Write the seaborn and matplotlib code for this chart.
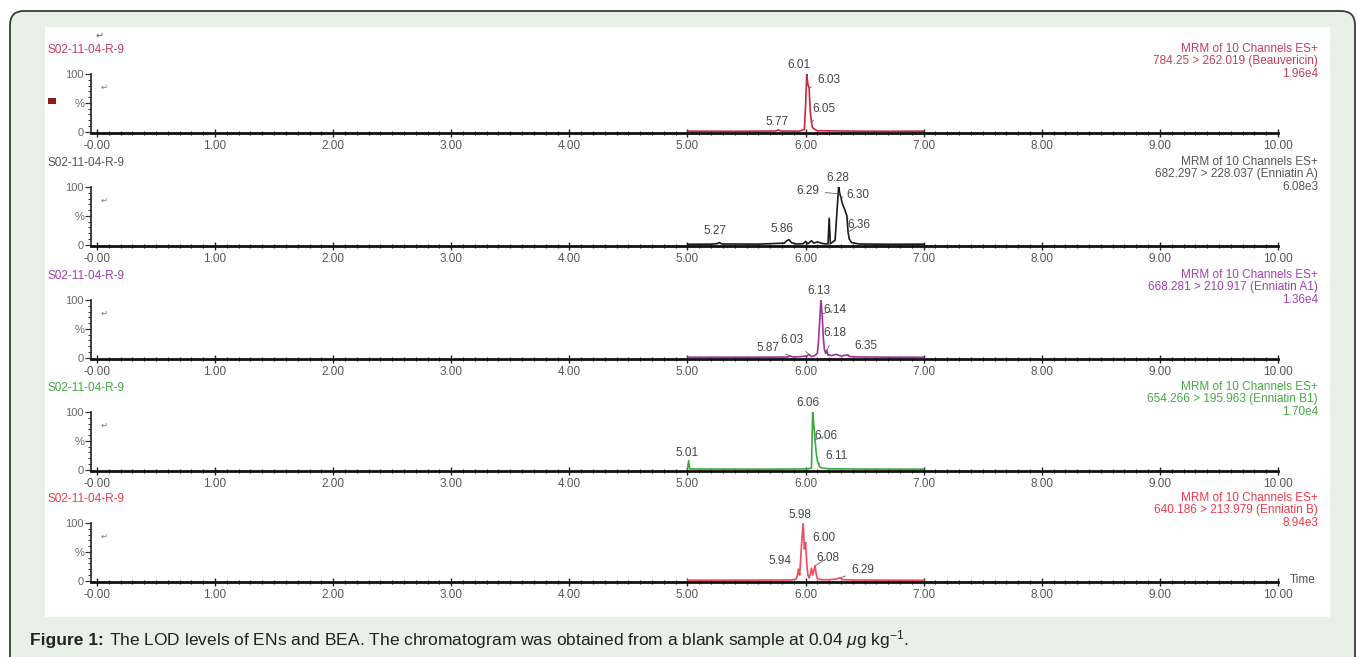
import matplotlib.pyplot as plt
import seaborn as sns
from matplotlib.patches import FancyBboxPatch, Rectangle
from matplotlib.ticker import MultipleLocator


# --- data ---

sample_names = ["S02-11-04-R-9"] * 5
channel_title = "MRM of 10 Channels ES+"
transitions = [
    "784.25 > 262.019 (Beauvericin)",
    "682.297 > 228.037 (Enniatin A)",
    "668.281 > 210.917 (Enniatin A1)",
    "654.266 > 195.963 (Enniatin B1)",
    "640.186 > 213.979 (Enniatin B)",
]
intensities = ["1.96e4", "6.08e3", "1.36e4", "1.70e4", "8.94e3"]
x_ticks = [0, 1, 2, 3, 4, 5, 6, 7, 8, 9, 10]
x_tick_labels = ["-0.00", "1.00", "2.00", "3.00", "4.00", "5.00",
                 "6.00", "7.00", "8.00", "9.00", "10.00"]

# Beauvericin
bea_time = [5.00, 5.40, 5.70, 5.75, 5.77, 5.79, 5.95, 5.99, 6.00, 6.01, 6.02,
            6.03, 6.04, 6.05, 6.06, 6.08, 6.10, 6.40, 6.70, 7.00]
bea_pct = [1.2, 1.0, 1.3, 1.5, 3.5, 1.4, 1.2, 4, 45, 100, 82,
           76, 35, 16, 7, 4, 2, 1.2, 1.0, 1.2]
bea_peak_labels = ["6.01", "6.03", "6.05", "5.77"]
bea_peak_time = [6.01, 6.03, 6.05, 5.77]
bea_peak_pct = [100, 76, 16, 3.5]

# Enniatin A
ena_time = [5.00, 5.20, 5.25, 5.27, 5.29, 5.60, 5.82, 5.84, 5.86, 5.88, 5.92,
            5.98, 6.00, 6.02, 6.05, 6.07, 6.10, 6.15, 6.19, 6.20, 6.21, 6.25,
            6.27, 6.28, 6.29, 6.30, 6.31, 6.33, 6.35, 6.36, 6.37, 6.39, 6.45,
            6.70, 7.00]
ena_pct = [1.0, 1.2, 2, 4, 1.5, 1.2, 3, 7, 9, 4, 1.5,
           2, 6, 2, 7, 3, 5, 2, 1.5, 46, 2, 8,
           70, 100, 88, 82, 72, 62, 50, 22, 10, 4, 1.5,
           1.0, 1.2]
ena_peak_labels = ["6.28", "6.29", "6.30", "6.36", "5.86", "5.27"]
ena_peak_time = [6.28, 6.29, 6.30, 6.36, 5.86, 5.27]
ena_peak_pct = [100, 88, 82, 22, 9, 4]

# Enniatin A1
ena1_time = [5.00, 5.50, 5.80, 5.85, 5.87, 5.89, 5.95, 6.01, 6.03, 6.05, 6.08,
             6.10, 6.11, 6.12, 6.13, 6.14, 6.15, 6.16, 6.17, 6.18, 6.19, 6.22,
             6.26, 6.30, 6.35, 6.38, 6.45, 6.70, 7.00]
ena1_pct = [1.0, 1.2, 1.3, 1.5, 3.5, 1.5, 2, 3, 6, 2, 4,
            8, 30, 65, 100, 76, 35, 14, 8, 13, 5, 4,
            6, 3, 5, 2, 1.5, 1.2, 1.0]
ena1_peak_labels = ["6.13", "6.14", "6.18", "6.35", "6.03", "5.87"]
ena1_peak_time = [6.13, 6.14, 6.18, 6.35, 6.03, 5.87]
ena1_peak_pct = [100, 76, 13, 5, 6, 3.5]

# Enniatin B1
enb1_time = [5.00, 5.01, 5.02, 5.30, 5.70, 5.95, 6.03, 6.05, 6.06, 6.07, 6.08,
             6.09, 6.10, 6.11, 6.12, 6.14, 6.20, 6.50, 7.00]
enb1_pct = [1.5, 16, 1.5, 1.3, 1.2, 1.5, 2, 3, 100, 78, 52,
            30, 16, 10, 5, 3, 1.8, 1.3, 1.2]
enb1_peak_labels = ["6.06", "6.06", "6.11", "5.01"]
enb1_peak_time = [6.06, 6.08, 6.11, 5.01]
enb1_peak_pct = [100, 52, 10, 16]

# Enniatin B
enb_time = [5.00, 5.50, 5.88, 5.92, 5.93, 5.94, 5.95, 5.96, 5.97, 5.98, 5.99,
            6.00, 6.01, 6.02, 6.03, 6.04, 6.05, 6.06, 6.07, 6.08, 6.09, 6.10,
            6.13, 6.20, 6.26, 6.29, 6.32, 6.40, 6.70, 7.00]
enb_pct = [1.2, 1.3, 1.5, 3, 8, 20, 10, 42, 75, 100, 55,
           66, 30, 10, 5, 12, 22, 10, 18, 26, 12, 4,
           2, 2, 3, 5, 2, 1.5, 1.2, 1.0]
enb_peak_labels = ["5.98", "6.00", "5.94", "6.08", "6.29"]
enb_peak_time = [5.98, 6.00, 5.94, 6.08, 6.29]
enb_peak_pct = [100, 66, 20, 26, 5]

traces = [
    (bea_time, bea_pct, bea_peak_labels, bea_peak_time, bea_peak_pct),
    (ena_time, ena_pct, ena_peak_labels, ena_peak_time, ena_peak_pct),
    (ena1_time, ena1_pct, ena1_peak_labels, ena1_peak_time, ena1_peak_pct),
    (enb1_time, enb1_pct, enb1_peak_labels, enb1_peak_time, enb1_peak_pct),
    (enb_time, enb_pct, enb_peak_labels, enb_peak_time, enb_peak_pct),
]

# --- styling / layout ---

line_colors = ["#c8283c", "#1a1a1a", "#a0309c", "#3aaa3c", "#f04a5c"]
text_colors = ["#c0405a", "#555555", "#a040b0", "#45a845", "#ee3a4c"]
# label offsets in pixels
label_offsets = [
    [(-8, 9), (20, 8), (12, 14), (-1, 8)],
    [(-1, 9), (-32, 3), (17, 2), (11, 7), (-7, 11), (-4, 12)],
    [(-2, 9), (13, 4), (8, 17), (19, 9), (-17, 14), (-22, 8)],
    [(-5, 9), (11, 4), (18, 8), (-2, 8)],
    [(-3, 8), (18, 5), (-18, 8), (13, 8), (23, 8)],
]

W, H = 1358, 657
baselines = [132, 245, 358, 470, 581]
ax_left, ax_right = 91, 1278
panel_h = 59

sns.set_style("ticks")
plt.rcParams["font.family"] = ["Liberation Sans", "DejaVu Sans"]
plt.rcParams["mathtext.fontset"] = "custom"
plt.rcParams["mathtext.rm"] = "Liberation Sans"
plt.rcParams["mathtext.it"] = "Liberation Sans:italic"

fig = plt.figure(figsize=(W / 100, H / 100), dpi=100, facecolor="white")

# background frame
bg = fig.add_axes([0, 0, 1, 1], zorder=-10)
bg.set_xlim(0, W)
bg.set_ylim(H, 0)
bg.axis("off")
bg.add_patch(FancyBboxPatch((10, 11), 1345, 700,
                            boxstyle="round,pad=0,rounding_size=14",
                            fc="#e7f1e5", ec="#3a3a3a", lw=1.3))
bg.add_patch(Rectangle((45, 27), 1285, 590, fc="white", ec="none"))
bg.add_patch(Rectangle((48, 98), 8, 6, fc="#8b1a1a", ec="none"))
bg.text(100, 36, "\u21b5", fontsize=7, color="#666", ha="center", va="center",
        family="DejaVu Sans")

small = 8.5

for i, (t, pct, labels, p_t, p_pct) in enumerate(traces):
    b = baselines[i]
    ax = fig.add_axes([ax_left / W, 1 - (b + 1) / H,
                       (ax_right - ax_left) / W, panel_h / H])
    ax.patch.set_alpha(0)

    sns.lineplot(x=t, y=pct, ax=ax, color=line_colors[i], lw=1.2,
                 estimator=None, sort=False, zorder=3)

    ax.set_xlim(-0.05, 10.0)
    ax.set_ylim(-2, 100)
    sns.despine(ax=ax)
    ax.spines["bottom"].set_linewidth(2.0)
    ax.spines["bottom"].set_color("#111")
    ax.spines["left"].set_linewidth(1.2)
    ax.spines["left"].set_color("#222")

    ax.set_xticks(x_ticks)
    ax.set_xticklabels(x_tick_labels, fontsize=small, color="#555")
    ax.xaxis.set_minor_locator(MultipleLocator(0.1))
    ax.tick_params(axis="x", which="major", direction="inout", length=6,
                   width=1.0, pad=2, color="#222")
    ax.tick_params(axis="x", which="minor", direction="inout", length=3,
                   width=0.8, color="#222")

    ax.set_yticks([0, 50, 100])
    ax.set_yticklabels(["0", "%", "100"], fontsize=small - 0.5, color="#666")
    ax.yaxis.set_minor_locator(MultipleLocator(10))
    ax.tick_params(axis="y", which="major", length=4, width=0.9, pad=1,
                   color="#333")
    ax.tick_params(axis="y", which="minor", length=2, width=0.7, color="#333")
    ax.set_xlabel("")
    ax.set_ylabel("")

    for lab, pt, pp, (dx, dy) in zip(labels, p_t, p_pct, label_offsets[i]):
        arrow = None
        if abs(dx) > 10 or dy > 12:
            arrow = dict(arrowstyle="-", color="#666", lw=0.6,
                         shrinkA=2, shrinkB=0)
        ax.annotate(lab, xy=(pt, pp), xytext=(dx, dy),
                    textcoords="offset pixels", ha="center", va="center",
                    fontsize=small, color="#444", annotation_clip=False,
                    arrowprops=arrow, zorder=4)

    ax.text(0.008, 0.78, "\u21b5", transform=ax.transAxes, fontsize=6,
            color="#777", family="DejaVu Sans", va="center")

    # header texts
    fig.text(47 / W, 1 - (b - 82) / H, sample_names[i], fontsize=small,
             color=text_colors[i], ha="left", va="center")
    fig.text(1318 / W, 1 - (b - 83) / H, channel_title, fontsize=small,
             color=text_colors[i], ha="right", va="center")
    fig.text(1318 / W, 1 - (b - 71) / H, transitions[i], fontsize=small,
             color=text_colors[i], ha="right", va="center")
    fig.text(1318 / W, 1 - (b - 58) / H, intensities[i], fontsize=small,
             color=text_colors[i], ha="right", va="center")

    if i == len(traces) - 1:
        ax.text(1.01, 0.03, "Time", transform=ax.transAxes, fontsize=small,
                color="#555", ha="left", va="center")

# caption: bold lead-in, then the rest on the same baseline
cap_y = 1 - 645 / H
cap = fig.text(30 / W, cap_y, "Figure 1:", fontsize=12.5,
               fontweight="bold", color="#222", ha="left", va="baseline")
fig.canvas.draw()
cap_end = cap.get_window_extent(fig.canvas.get_renderer()).x1
fig.text((cap_end + 5) / W, cap_y,
         "The LOD levels of ENs and BEA. The chromatogram was obtained "
         r"from a blank sample at 0.04 $\mathit{\mu}$g kg$^{-1}$.",
         fontsize=12.5, color="#222", ha="left", va="baseline")

fig.savefig("out.png", dpi=100, facecolor="white")
